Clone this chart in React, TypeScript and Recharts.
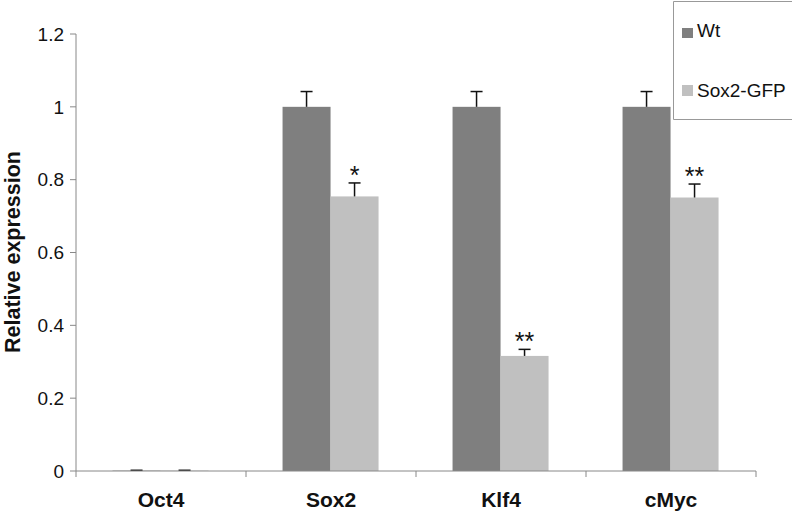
import React from 'react';
import { BarChart, Bar, XAxis, YAxis, Legend } from 'recharts';

const categories = ['Oct4', 'Sox2', 'Klf4', 'cMyc'];
const wtValues = [0.001, 1, 1, 1];
const wtErrors = [0.001, 0.042, 0.042, 0.042];
const gfpValues = [0.001, 0.754, 0.316, 0.751];
const gfpErrors = [0.001, 0.037, 0.018, 0.037];
const significance = ['', '*', '**', '**'];
const yTicks = [0, 0.2, 0.4, 0.6, 0.8, 1, 1.2];
const seriesNames = ['Wt', 'Sox2-GFP'];

const WT_COLOR = '#7f7f7f';
const GFP_COLOR = '#c0c0c0';
const FONT = '"Liberation Sans", Arial, sans-serif';

const data = categories.map((c, i) => ({
  name: c,
  wt: wtValues[i],
  wtErr: wtErrors[i],
  gfp: gfpValues[i],
  gfpErr: gfpErrors[i],
  sig: significance[i],
}));

const W = 792;
const H = 514;
const MARGIN = { top: 34, right: 36, bottom: 0, left: 0 };
const Y_AXIS_W = 76;
const X_AXIS_H = 43;
const PLOT_W = W - MARGIN.left - MARGIN.right - Y_AXIS_W;
const BAND = PLOT_W / categories.length;

const XTick = (props: any) => {
  const { x, y, payload, index } = props;
  const half = BAND / 2;
  return (
    <g>
      <line x1={x - half} y1={y} x2={x - half} y2={y + 6} stroke="#888" strokeWidth={1} />
      {index === categories.length - 1 && (
        <line x1={x + half} y1={y} x2={x + half} y2={y + 6} stroke="#888" strokeWidth={1} />
      )}
      <text x={x} y={y + 36} textAnchor="middle" fontFamily={FONT} fontWeight="bold" fontSize={21} fill="#111">
        {payload.value}
      </text>
    </g>
  );
};

const makeShape = (valueKey: string, errKey: string, color: string) => (props: any) => {
  const { x, y, width, height, payload } = props;
  const val = payload[valueKey];
  const err = payload[errKey];
  const errTop = val > 0 ? y - (err * height) / val : y;
  const cx = x + width / 2;
  const sig = valueKey === 'gfp' ? payload.sig : '';
  return (
    <g>
      <rect x={x} y={y} width={width} height={Math.max(height, 0)} fill={color} />
      <line x1={cx} y1={y} x2={cx} y2={errTop} stroke="#111" strokeWidth={1.5} />
      <line x1={cx - 6} y1={errTop} x2={cx + 6} y2={errTop} stroke="#111" strokeWidth={1.5} />
      {sig && (
        <text x={cx} y={errTop + 1} textAnchor="middle" fontFamily={FONT} fontSize={25} fill="#111">
          {sig}
        </text>
      )}
    </g>
  );
};

const WtShape = makeShape('wt', 'wtErr', WT_COLOR);
const GfpShape = makeShape('gfp', 'gfpErr', GFP_COLOR);

const LegendBox = () => (
  <svg width={119} height={119} style={{ display: 'block' }}>
    <path d="M119 0.5 H0.5 V118.5 H119" fill="none" stroke="#999" strokeWidth={1} />
    <rect x={9} y={27} width={11} height={10} fill={WT_COLOR} />
    <text x={24} y={35.5} fontFamily={FONT} fontSize={19} fill="#111">{seriesNames[0]}</text>
    <rect x={9} y={84} width={11} height={11} fill={GFP_COLOR} />
    <text x={24} y={95.5} fontFamily={FONT} fontSize={19} fill="#111">{seriesNames[1]}</text>
  </svg>
);

const YLabel = () => (
  <text
    x={20}
    y={252}
    transform="rotate(-90 20 252)"
    textAnchor="middle"
    fontFamily={FONT}
    fontWeight="bold"
    fontSize={21.5}
    fill="#111"
  >
    Relative expression
  </text>
);

export default function App() {
  return (
    <div style={{ position: 'absolute', left: 0, top: 0, width: W, height: H, overflow: 'hidden', background: '#fff' }}>
      <BarChart width={W} height={H} data={data} margin={MARGIN} barCategoryGap="21.5%" barGap={0}>
        <XAxis
          dataKey="name"
          height={X_AXIS_H}
          stroke="#888"
          tickLine={false}
          tickSize={0}
          tickMargin={0}
          tick={<XTick />}
          interval={0}
        />
        <YAxis
          width={Y_AXIS_W}
          domain={[0, 1.2]}
          ticks={yTicks}
          stroke="#888"
          tickSize={6}
          tickMargin={6}
          tick={{ fontFamily: FONT, fontSize: 19, fill: '#111' }}
          label={<YLabel />}
          allowDataOverflow
        />
        <Legend
          layout="vertical"
          align="center"
          verticalAlign="middle"
          content={<LegendBox />}
          wrapperStyle={{ position: 'absolute', left: 673, top: 1, width: 119, height: 119 }}
        />
        <Bar dataKey="wt" name={seriesNames[0]} fill={WT_COLOR} shape={<WtShape />} isAnimationActive={false} />
        <Bar dataKey="gfp" name={seriesNames[1]} fill={GFP_COLOR} shape={<GfpShape />} isAnimationActive={false} />
      </BarChart>
    </div>
  );
}
